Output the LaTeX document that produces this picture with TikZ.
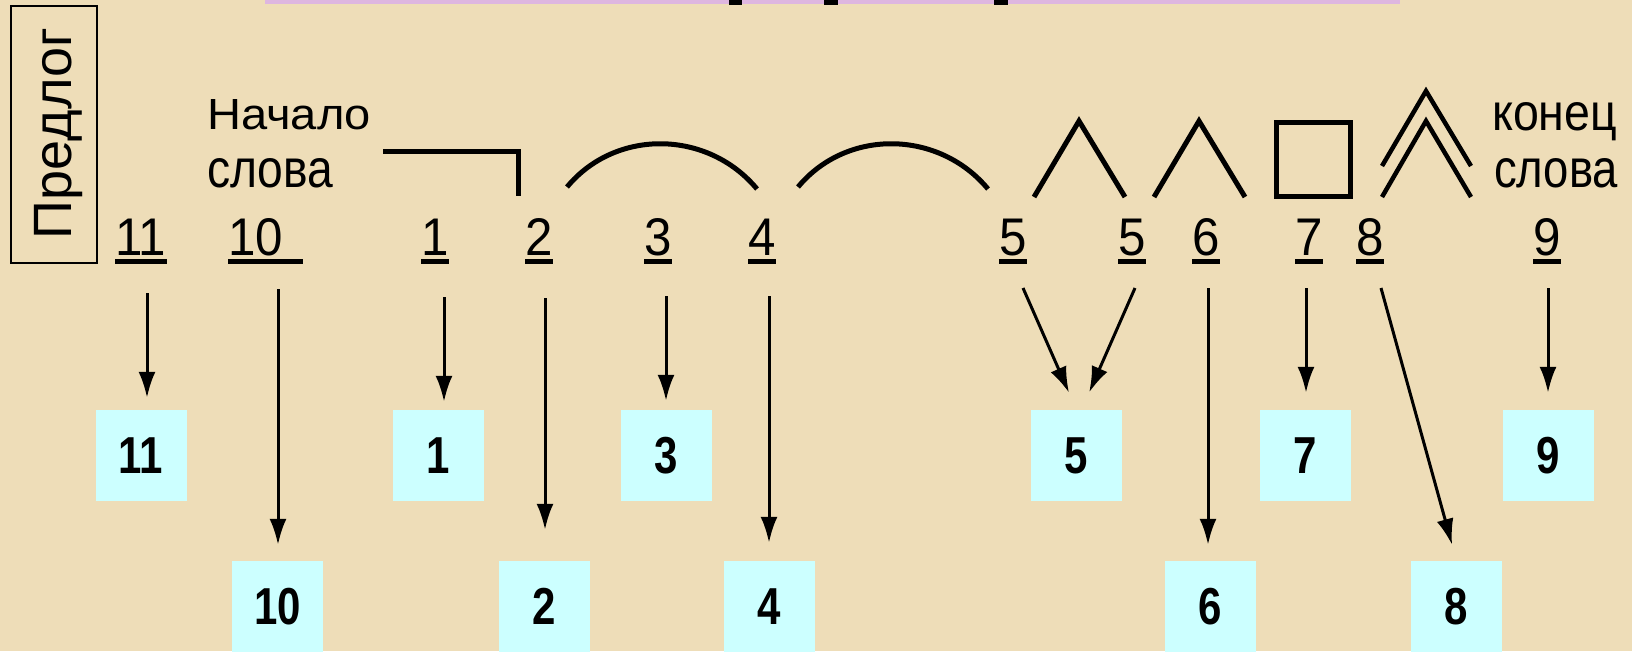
\documentclass[tikz,border=0pt]{standalone}
\usepackage{fontspec}
\setmainfont{Liberation Sans}
\usetikzlibrary{arrows.meta,calc}
\definecolor{bg}{RGB}{238,221,184}
\definecolor{boxc}{RGB}{204,255,255}
\definecolor{pinkbar}{RGB}{222,182,224}
\newcommand{\bnum}[1]{\scalebox{0.84}[1.04]{#1}}
\newcommand{\lnum}[1]{\scalebox{0.93}[1.0]{#1}}
\begin{document}
\begin{tikzpicture}[x=1pt,y=-1pt,
  lbl/.style={inner sep=0pt,anchor=base west,font=\fontsize{53}{53}\selectfont},
  ul/.style={line width=5pt},
  numbox/.style={fill=boxc,minimum width=91pt,minimum height=91pt,inner sep=0pt,font=\fontsize{50}{50}\selectfont\bfseries},
  arr/.style={line width=3pt,-{Latex[length=26pt,width=17pt]}},
  sym/.style={line width=5pt,miter limit=10},
  word/.style={inner sep=0pt,anchor=base west}]
\useasboundingbox (0,0) rectangle (1632,651);
\clip (0,0) rectangle (1632,651);
\fill[bg] (0,0) rectangle (1632,651);
% top strip (cut-off title)
\fill[pinkbar] (265,0) rectangle (1400,4);
\fill[black] (729,0) rectangle (742,4.5);
\fill[black] (824,0) rectangle (838,4.5);
\fill[black] (994,0) rectangle (1008,4.5);
% Predlog box
\node[draw,line width=1.5pt,minimum width=86pt,minimum height=257pt,inner sep=0pt] (pbox) at (54,134.5) {};
\node[rotate=90,anchor=base,inner sep=0pt,font=\fontsize{54}{54}\selectfont] (ptext) at (71,133.5) {Предлог};
% words
\node[word] (nach) at (207,129) {\resizebox{164pt}{30pt}{\fontsize{40}{40}\selectfont Начало}};
\node[word] (slova1) at (207,187) {\resizebox{126pt}{29pt}{\fontsize{40}{40}\selectfont слова}};
\node[word] (konec) at (1492,130) {\resizebox{125pt}{28pt}{\fontsize{40}{40}\selectfont конец}};
\node[word] (slova2) at (1494,187) {\resizebox{124pt}{29pt}{\fontsize{40}{40}\selectfont слова}};
% symbols
\draw[sym] (383,151.5) -- (518,151.5) -- (518,196);
\draw[sym] (567,187) .. controls (616,128) and (708,130) .. (757,189);
\draw[sym] (798,187) .. controls (847,128) and (939,130) .. (988,189);
\draw[sym] (1034,197) -- (1079,121) -- (1125,197);
\draw[sym] (1154,197) -- (1199,121) -- (1245,197);
\draw[sym] (1276,122) rectangle (1350,196);
\draw[sym,line width=4.5pt] (1382,166) -- (1426,91) -- (1471,166);
\draw[sym,line width=4.5pt] (1382,197) -- (1426,121) -- (1471,197);
% underlined labels
\foreach \n/\x/\t in {l11/115/11, l1/421/1, l2/525/2, l3/644/3, l4/748/4, l5a/999/5, l5b/1118/5, l6/1192/6, l7/1295/7, l8/1356/8, l9/1533/9}{
  \node[lbl] (\n) at (\x,255) {\lnum{\t}};
  \draw[ul] ($(\n.base west)+(0,6.5)$) -- ($(\n.base east)+(0,6.5)$);
}
\node[lbl] (l10) at (228,255) {\lnum{10}\kern20pt};
\draw[ul] ($(l10.base west)+(0,6.5)$) -- ($(l10.base east)+(0,6.5)$);
% boxes
\node[numbox] (b11) at (141,455.5) {\bnum{11}};
\node[numbox] (b1) at (438.5,455.5) {\bnum{1}};
\node[numbox] (b3) at (666.5,455.5) {\bnum{3}};
\node[numbox] (b5) at (1076.5,455.5) {\bnum{5}};
\node[numbox] (b7) at (1305.5,455.5) {\bnum{7}};
\node[numbox] (b9) at (1548,455.5) {\bnum{9}};
\node[numbox] (b10) at (277.5,606.5) {\bnum{10}};
\node[numbox] (b2) at (544.5,606.5) {\bnum{2}};
\node[numbox] (b4) at (769,606.5) {\bnum{4}};
\node[numbox] (b6) at (1210,606.5) {\bnum{6}};
\node[numbox] (b8) at (1456.5,606.5) {\bnum{8}};
% arrow starts
\coordinate (s11) at (147,293);
\coordinate (s10) at (278,289);
\coordinate (s1) at (444,297);
\coordinate (s2) at (545,298);
\coordinate (s3) at (666,296);
\coordinate (s4) at (769,296);
\coordinate (s5a) at (1023,288);
\coordinate (s5b) at (1135,288);
\coordinate (s6) at (1208,288);
\coordinate (s7) at (1306,288);
\coordinate (s8) at (1381,288);
\coordinate (s9) at (1548,288);
% arrows
\draw[arr,shorten >=12pt] (s11) -- (s11 |- b11.north);
\draw[arr,shorten >=16pt] (s10) -- (s10 |- b10.north);
\draw[arr,shorten >=8pt] (s1) -- (s1 |- b1.north);
\draw[arr,shorten >=31pt] (s2) -- (s2 |- b2.north);
\draw[arr,shorten >=9pt] (s3) -- (s3 |- b3.north);
\draw[arr,shorten >=18pt] (s4) -- (s4 |- b4.north);
\draw[arr,shorten >=18.6pt] (s5a) -- (b5.north);
\draw[arr,shorten >=18.9pt] (s5b) -- ([xshift=5pt]b5.north);
\draw[arr,shorten >=16pt] (s6) -- (s6 |- b6.north);
\draw[arr,shorten >=17pt] (s7) -- (s7 |- b7.north);
\draw[arr,shorten >=16.6pt] (s8) -- (b8.north);
\draw[arr,shorten >=17pt] (s9) -- (s9 |- b9.north);
\end{tikzpicture}
\end{document}
